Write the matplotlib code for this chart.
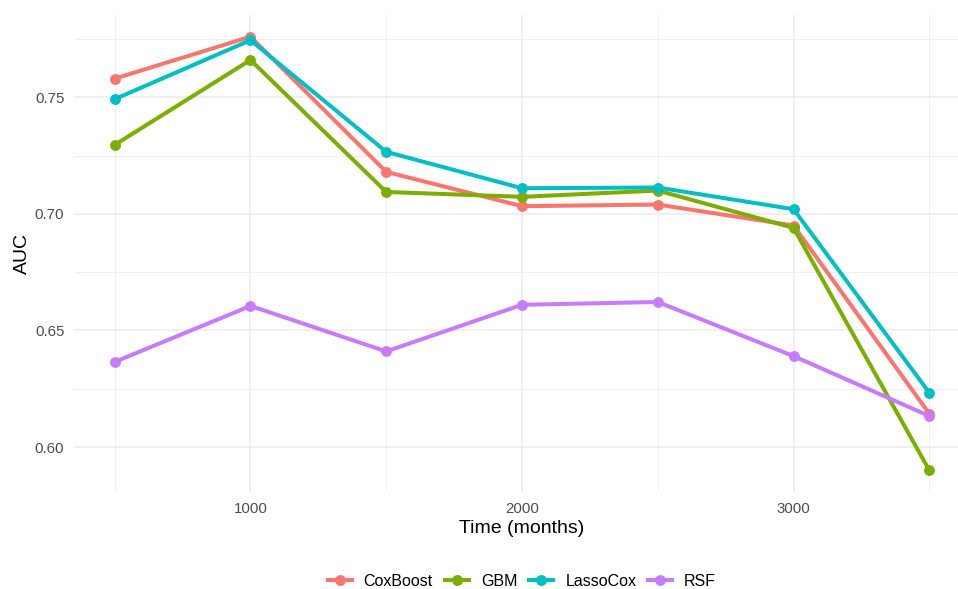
import matplotlib
matplotlib.use("Agg")
import matplotlib.pyplot as plt
from matplotlib.lines import Line2D

plt.rcParams['font.family'] = ['Liberation Sans', 'DejaVu Sans']

time = [500, 1000, 1500, 2000, 2500, 3000, 3500]
models = ["CoxBoost", "GBM", "LassoCox", "RSF"]
colors = ["#F8766D", "#7CAE00", "#00BFC4", "#C77CFF"]
auc_coxboost = [0.758, 0.776, 0.718, 0.7033, 0.7040, 0.695, 0.6143]
auc_gbm = [0.7296, 0.766, 0.7094, 0.7073, 0.7100, 0.694, 0.590]
auc_lassocox = [0.7492, 0.7745, 0.7266, 0.7110, 0.7113, 0.702, 0.6233]
auc_rsf = [0.6365, 0.6605, 0.641, 0.6610, 0.6622, 0.639, 0.6133]
series = [auc_coxboost, auc_gbm, auc_lassocox, auc_rsf]

W, H = 958, 589
fig = plt.figure(figsize=(W/100, H/100), dpi=100)
# panel continues slightly past the right edge of the image (as in the reference)
left, right, top, bottom = 74, 970, 15, 492
ax = fig.add_axes([left/W, 1 - bottom/H, (right-left)/W, (bottom-top)/H])

ax.set_xlim(350, 3650)
ax.set_ylim(0.5807, 0.7853)

# grid
for x in [1000, 2000, 3000]:
    ax.axvline(x, color="#EBEBEB", lw=1.1, zorder=0)
for x in [500, 1500, 2500, 3500]:
    ax.axvline(x, color="#EBEBEB", lw=0.55, zorder=0)
for y in [0.60, 0.65, 0.70, 0.75]:
    ax.axhline(y, color="#EBEBEB", lw=1.1, zorder=0)
for y in [0.625, 0.675, 0.725, 0.775]:
    ax.axhline(y, color="#EBEBEB", lw=0.55, zorder=0)

for vals, c in zip(series, colors):
    ax.plot(time, vals, color=c, lw=2.9, zorder=2, solid_capstyle='butt')
for vals, c in zip(series, colors):
    ax.plot(time, vals, color=c, lw=0, marker='o', ms=6.8, zorder=3)

for s in ax.spines.values():
    s.set_visible(False)
ax.set_xticks([1000, 2000, 3000])
ax.set_xticklabels(["1000", "2000", "3000"])
ax.set_yticks([0.60, 0.65, 0.70, 0.75])
ax.set_yticklabels(["0.60", "0.65", "0.70", "0.75"])
ax.tick_params(length=0, labelsize=10.8, labelcolor="#4D4D4D")
ax.tick_params(axis='y', pad=7)
ax.tick_params(axis='x', pad=7)
ax.set_xlabel("Time (months)", fontsize=14, color="black", labelpad=3)
ax.set_ylabel("AUC", fontsize=14, color="black", labelpad=3)

handles = [Line2D([0], [0], color=c, lw=2.9, marker='o', ms=6.8) for c in colors]
fig.legend(handles, models, loc="center", bbox_to_anchor=(522/W, 1 - 581/H), ncol=4,
           frameon=False, fontsize=11.5, handlelength=1.5, handletextpad=0.75,
           columnspacing=0.75)

fig.savefig("out.png", dpi=100, facecolor="white")
